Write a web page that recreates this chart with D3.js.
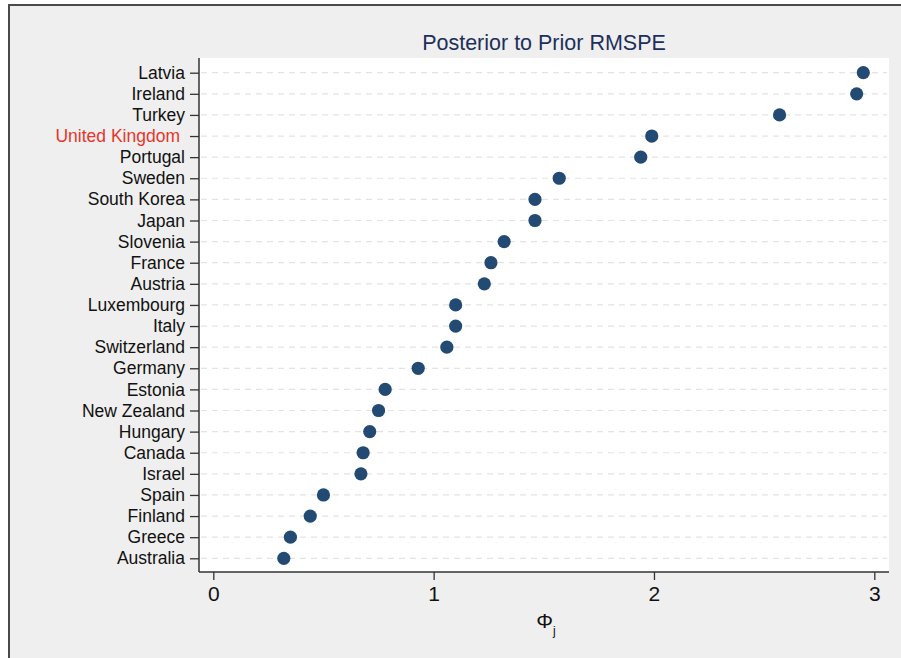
<!DOCTYPE html>
<html>
<head>
<meta charset="utf-8">
<script src="https://cdn.jsdelivr.net/npm/d3@7"></script>
<style>
  body { margin: 0; background: #fff; }
  svg { display: block; font-family: "Liberation Sans", Arial, Helvetica, sans-serif; }
</style>
</head>
<body>
<svg id="chart" width="901" height="658"></svg>
<script>
const countries = [
  'Latvia', 'Ireland', 'Turkey', 'United Kingdom', 'Portugal', 'Sweden',
  'South Korea', 'Japan', 'Slovenia', 'France', 'Austria', 'Luxembourg',
  'Italy', 'Switzerland', 'Germany', 'Estonia', 'New Zealand', 'Hungary',
  'Canada', 'Israel', 'Spain', 'Finland', 'Greece', 'Australia'
]
const phi = [
  2.95, 2.92, 2.57, 1.99, 1.94, 1.57,
  1.46, 1.46, 1.32, 1.26, 1.23, 1.10,
  1.10, 1.06, 0.93, 0.78, 0.75, 0.71,
  0.68, 0.67, 0.50, 0.44, 0.35, 0.32
]
const xTicks = [0, 1, 2, 3]
const highlight = 'United Kingdom'
const title = 'Posterior to Prior RMSPE'

const svg = d3.select('#chart')
const plot = { left: 199, right: 889, top: 58, bottom: 572 }

// gray graph region + frame
svg.append('rect')
  .attr('x', 9).attr('y', 5).attr('width', 892).attr('height', 653)
  .attr('fill', '#efefef')
svg.append('path')
  .attr('d', 'M9,658 L9,5 L901,5')
  .attr('fill', 'none')
  .attr('stroke', '#4a4a4a')
  .attr('stroke-width', 2)

// plot region
svg.append('rect')
  .attr('x', plot.left).attr('y', plot.top)
  .attr('width', plot.right - plot.left).attr('height', plot.bottom - plot.top)
  .attr('fill', '#fff')

const x = d3.scaleLinear()
  .domain([0, 3])
  .range([213.3, 874.3])
const y = d3.scalePoint()
  .domain(countries)
  .range([72.7, 558.3])

// dashed grid lines
svg.append('g')
  .selectAll('line')
  .data(countries)
  .join('line')
    .attr('x1', plot.left + 2)
    .attr('x2', plot.right - 2)
    .attr('y1', d => y(d))
    .attr('y2', d => y(d))
    .attr('stroke', '#e3e3e3')
    .attr('stroke-width', 1.2)
    .attr('stroke-dasharray', '6,5')

// y axis
const yAxis = d3.axisLeft(y).tickSize(9).tickPadding(5)
const gy = svg.append('g')
  .attr('transform', `translate(${plot.left},0)`)
  .call(yAxis)
gy.select('.domain')
  .attr('d', `M0,${plot.top}V${plot.bottom}`)
  .attr('stroke', '#333').attr('stroke-width', 1.5)
gy.selectAll('.tick line').attr('stroke', '#333').attr('stroke-width', 1.3)
gy.selectAll('.tick text')
  .attr('font-size', 17.5)
  .attr('font-family', '"Liberation Sans", Arial, sans-serif')
  .attr('fill', d => d === highlight ? '#e8352b' : '#111')
  .attr('dx', d => d === highlight ? -5 : 0)

// x axis
const xAxis = d3.axisBottom(x)
  .tickValues(xTicks)
  .tickFormat(d3.format('d'))
  .tickSize(8)
  .tickPadding(6)
const gx = svg.append('g')
  .attr('transform', `translate(0,${plot.bottom})`)
  .call(xAxis)
gx.select('.domain')
  .attr('d', `M${plot.left},0H${plot.right}`)
  .attr('stroke', '#333').attr('stroke-width', 1.5)
gx.selectAll('.tick line').attr('stroke', '#333').attr('stroke-width', 1.3)
gx.selectAll('.tick text')
  .attr('font-size', 21)
  .attr('font-family', '"Liberation Sans", Arial, sans-serif')
  .attr('fill', '#111')

// points
svg.append('g')
  .selectAll('circle')
  .data(countries.map((c, i) => ({ country: c, value: phi[i] })))
  .join('circle')
    .attr('cx', d => x(d.value))
    .attr('cy', d => y(d.country))
    .attr('r', 6.6)
    .attr('fill', '#234a72')

// title
svg.append('text')
  .attr('x', (plot.left + plot.right) / 2)
  .attr('y', 50)
  .attr('text-anchor', 'middle')
  .attr('font-size', 21.5)
  .attr('fill', '#1d2f5b')
  .text(title)

// x axis title: Phi_j
const xt = svg.append('text')
  .attr('x', 546)
  .attr('y', 628)
  .attr('text-anchor', 'middle')
  .attr('font-size', 21)
  .attr('fill', '#111')
xt.append('tspan').text('Φ')
xt.append('tspan').attr('font-size', 12).attr('dy', 7).text('j')
</script>
</body>
</html>
